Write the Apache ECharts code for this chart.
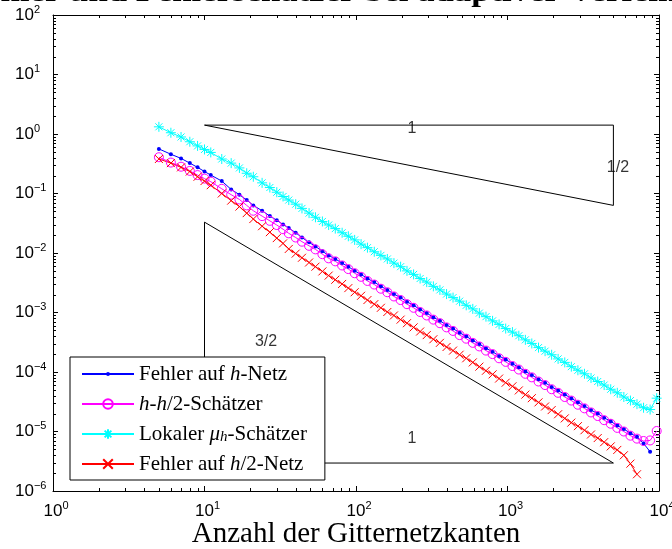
<!DOCTYPE html>
<html>
<head>
<meta charset="utf-8">
<script src="https://cdn.jsdelivr.net/npm/echarts@6/dist/echarts.min.js"></script>
<style>
  html, body { margin: 0; padding: 0; background: #fff; }
  #chart { width: 672px; height: 549px; }
</style>
</head>
<body>
<div id="chart"></div>
<script>
// number of grid edges (shared x values)
const edges = [5, 6, 7, 8, 9, 10, 11, 13, 15, 17, 19, 21, 24, 27, 30, 33, 36, 40, 44, 49,
  54, 60, 66, 73, 81, 89, 98, 108, 119, 132, 146, 161, 178, 197, 217, 240, 265, 293, 324, 358,
  396, 437, 483, 534, 590, 652, 721, 797, 880, 973, 1078, 1188, 1312, 1447, 1602, 1770, 1956, 2158, 2388, 2638,
  2915, 3221, 3559, 3940, 4345, 4801, 5305, 5861, 6476, 7156, 7907, 8737, 9654];

// Fehler auf h-Netz
const errH = [0.562, 0.457, 0.389, 0.324, 0.275, 0.234, 0.204, 0.162, 0.117, 9.55e-2,
  7.76e-2, 6.31e-2, 5.13e-2, 4.17e-2, 3.55e-2, 3.02e-2, 2.63e-2, 2.19e-2, 1.82e-2, 1.51e-2,
  1.29e-2, 1.07e-2, 9.12e-3, 7.94e-3, 6.76e-3, 5.89e-3, 5.01e-3, 4.37e-3, 3.72e-3, 3.24e-3,
  2.75e-3, 2.40e-3, 2.04e-3, 1.78e-3, 1.51e-3, 1.32e-3, 1.12e-3, 9.77e-4, 8.32e-4, 7.24e-4,
  6.17e-4, 5.37e-4, 4.57e-4, 3.98e-4, 3.39e-4, 2.95e-4, 2.51e-4, 2.19e-4, 1.86e-4, 1.62e-4,
  1.38e-4, 1.20e-4, 1.02e-4, 8.91e-5, 7.59e-5, 6.61e-5, 5.62e-5, 4.90e-5, 4.17e-5, 3.63e-5,
  3.09e-5, 2.69e-5, 2.29e-5, 2.00e-5, 1.70e-5, 1.48e-5, 1.26e-5, 1.10e-5, 9.33e-6, 8.13e-6,
  6.31e-6, 4.57e-6];

// h-h/2-Schätzer
const estHH2 = [0.407, 0.331, 0.282, 0.240, 0.204, 0.178, 0.158, 0.120, 9.55e-2, 7.94e-2,
  6.31e-2, 5.13e-2, 4.17e-2, 3.47e-2, 2.95e-2, 2.51e-2, 2.14e-2, 1.82e-2, 1.55e-2, 1.32e-2,
  1.15e-2, 9.55e-3, 8.13e-3, 7.24e-3, 6.17e-3, 5.37e-3, 4.57e-3, 3.98e-3, 3.39e-3, 2.95e-3,
  2.51e-3, 2.19e-3, 1.86e-3, 1.62e-3, 1.38e-3, 1.20e-3, 1.02e-3, 8.91e-4, 7.59e-4, 6.61e-4,
  5.62e-4, 4.90e-4, 4.17e-4, 3.63e-4, 3.09e-4, 2.69e-4, 2.29e-4, 2.00e-4, 1.70e-4, 1.48e-4,
  1.26e-4, 1.10e-4, 9.33e-5, 8.13e-5, 6.92e-5, 6.03e-5, 5.13e-5, 4.47e-5, 3.80e-5, 3.31e-5,
  2.82e-5, 2.45e-5, 2.09e-5, 1.82e-5, 1.55e-5, 1.35e-5, 1.15e-5, 1.00e-5, 8.51e-6, 7.59e-6,
  6.92e-6, 7.08e-6, 1.02e-5];

// Lokaler mu_h-Schätzer
const estMu = [1.32, 1.05, 0.891, 0.741, 0.631, 0.550, 0.490, 0.380, 0.324, 0.269,
  0.219, 0.191, 0.151, 0.126, 0.105, 8.91e-2, 7.76e-2, 6.61e-2, 5.62e-2, 4.68e-2,
  3.98e-2, 3.39e-2, 2.95e-2, 2.57e-2, 2.19e-2, 1.91e-2, 1.66e-2, 1.41e-2, 1.23e-2, 1.05e-2,
  9.12e-3, 7.94e-3, 6.76e-3, 5.89e-3, 5.01e-3, 4.37e-3, 3.72e-3, 3.24e-3, 2.75e-3, 2.40e-3,
  2.04e-3, 1.78e-3, 1.55e-3, 1.32e-3, 1.15e-3, 9.77e-4, 8.51e-4, 7.24e-4, 6.31e-4, 5.37e-4,
  4.68e-4, 4.07e-4, 3.47e-4, 3.02e-4, 2.57e-4, 2.24e-4, 1.95e-4, 1.66e-4, 1.45e-4, 1.23e-4,
  1.07e-4, 9.33e-5, 7.94e-5, 6.92e-5, 6.03e-5, 5.13e-5, 4.47e-5, 3.80e-5, 3.31e-5, 2.88e-5,
  2.51e-5, 2.34e-5, 3.63e-5];

// Fehler auf h/2-Netz
const errH2 = [0.380, 0.324, 0.275, 0.234, 0.191, 0.162, 0.138, 0.100, 7.59e-2, 6.03e-2,
  4.68e-2, 3.72e-2, 2.82e-2, 2.24e-2, 1.78e-2, 1.45e-2, 1.17e-2, 9.77e-3, 8.32e-3, 6.92e-3,
  5.89e-3, 4.90e-3, 4.17e-3, 3.55e-3, 3.02e-3, 2.57e-3, 2.19e-3, 1.91e-3, 1.62e-3, 1.38e-3,
  1.20e-3, 1.02e-3, 8.91e-4, 7.59e-4, 6.61e-4, 5.62e-4, 4.79e-4, 4.17e-4, 3.55e-4, 3.09e-4,
  2.63e-4, 2.29e-4, 1.95e-4, 1.70e-4, 1.45e-4, 1.23e-4, 1.05e-4, 9.12e-5, 7.76e-5, 6.61e-5,
  5.75e-5, 4.90e-5, 4.17e-5, 3.63e-5, 3.09e-5, 2.63e-5, 2.29e-5, 1.95e-5, 1.66e-5, 1.41e-5,
  1.23e-5, 1.05e-5, 8.91e-6, 7.76e-6, 6.61e-6, 5.62e-6, 4.90e-6, 3.98e-6, 2.88e-6, 1.91e-6];

// slope triangles (corners, in data units)
const tri1X = [10, 5000, 5000, 10];
const tri1Y = [1.41, 1.41, 0.0631, 1.41];
const tri2X = [10, 10, 5000, 10];
const tri2Y = [0.033, 2.95e-6, 2.95e-6, 0.033];

// triangle annotations
const noteX = [234, 5360, 25.5, 234];
const noteY = [1.21, 0.268, 3.19e-4, 7.6e-6];
const noteText = ['1', '1/2', '3/2', '1'];

const seriesNames = ['Fehler auf h-Netz', 'h-h/2-Schätzer', 'Lokaler μh-Schätzer', 'Fehler auf h/2-Netz'];
const legendRich = {
  'Fehler auf h-Netz': 'Fehler auf {i|h}-Netz',
  'h-h/2-Schätzer': '{i|h}-{i|h}/2-Schätzer',
  'Lokaler μh-Schätzer': 'Lokaler {i|μ}{s|h}-Schätzer',
  'Fehler auf h/2-Netz': 'Fehler auf {i|h}/2-Netz',
};

const SANS = '"Liberation Sans", Arial, sans-serif';
const SERIF = '"Liberation Serif", "Times New Roman", serif';

// marker shapes (MATLAB '.', '*', 'x'); corner moves keep the box size
const dotSymbol = 'path://M0,0L0,0M10,10L10,10M3,5A2,2,0,1,1,7,5A2,2,0,1,1,3,5Z';
const starSymbol = 'path://M5,0L5,10M0,5L10,5M1.5,1.5L8.5,8.5M1.5,8.5L8.5,1.5';
const crossSymbol = 'path://M0,0L10,10M0,10L10,0';

const pairs = (xs, ys) => ys.map((y, i) => [xs[i], y]);

const expLabel = (v) => {
  const e = Math.round(Math.log10(v));
  return '{b|10}{e|' + (e < 0 ? '−' + (-e) : e) + '}';
};
const expRich = {
  b: { fontFamily: SANS, fontSize: 17, lineHeight: 22, color: '#000' },
  e: { fontFamily: SANS, fontSize: 11, lineHeight: 11, verticalAlign: 'top', color: '#000' },
};

const chart = echarts.init(document.getElementById('chart'), null, { renderer: 'canvas' });

const baseAxis = {
  type: 'log',
  logBase: 10,
  axisLine: { show: true, onZero: false, lineStyle: { color: '#000', width: 1 } },
  axisTick: { show: true, inside: true, length: 5, lineStyle: { color: '#000', width: 1 } },
  splitLine: { show: false },
  minorTick: { show: false },
};

const option = {
  animation: false,
  backgroundColor: '#fff',
  grid: { left: 53, right: 13, top: 15, bottom: 58, containLabel: false, outerBoundsMode: 'none' },
  graphic: [{
    // title, cut off at the top edge like the exported figure
    type: 'text',
    x: -36,
    y: 8,
    scaleX: 1.24,
    silent: true,
    style: {
      text: 'Fehler und Fehlerschätzer bei adaptiver Verfeinerung',
      font: 'bold 28px ' + SERIF,
      fill: '#000',
      align: 'left',
      verticalAlign: 'bottom',
    },
  }],
  xAxis: [
    Object.assign({}, baseAxis, {
      min: 1, max: 10000, splitNumber: 4,
      name: 'Anzahl der Gitternetzkanten',
      nameLocation: 'middle',
      nameGap: 29,
      nameMoveOverlap: false,
      nameTextStyle: { fontFamily: SERIF, fontSize: 29, color: '#000' },
      axisLabel: { formatter: expLabel, rich: expRich, margin: 9, padding: [0, 0, 0, 6] },
    }),
    Object.assign({}, baseAxis, {
      position: 'top', min: 1, max: 10000, splitNumber: 4,
      axisLabel: { show: false },
    }),
  ],
  yAxis: [
    Object.assign({}, baseAxis, {
      min: 1e-6, max: 100, splitNumber: 8,
      axisLabel: { formatter: expLabel, rich: expRich, align: 'left', margin: 38 },
    }),
    Object.assign({}, baseAxis, {
      position: 'right', min: 1e-6, max: 100, splitNumber: 8,
      axisLabel: { show: false },
    }),
  ],
  legend: {
    data: seriesNames,
    orient: 'vertical',
    left: 70,
    top: 357,
    padding: [6, 18, 5, 11],
    itemWidth: 52,
    itemHeight: 12,
    itemGap: 8,
    selectedMode: false,
    backgroundColor: '#fff',
    borderColor: '#000',
    borderWidth: 1,
    formatter: (name) => legendRich[name],
    textStyle: {
      fontFamily: SERIF,
      fontSize: 21,
      lineHeight: 22,
      color: '#000',
      rich: {
        i: { fontFamily: SERIF, fontStyle: 'italic', fontSize: 21, lineHeight: 22, color: '#000' },
        s: { fontFamily: SERIF, fontStyle: 'italic', fontSize: 15, lineHeight: 14, verticalAlign: 'bottom', color: '#000' },
      },
    },
  },
  series: [
    {
      name: 'tri1', type: 'line', data: pairs(tri1X, tri1Y), symbol: 'none', silent: true,
      lineStyle: { color: '#000', width: 1 }, z: 1,
    },
    {
      name: 'tri2', type: 'line', data: pairs(tri2X, tri2Y), symbol: 'none', silent: true,
      lineStyle: { color: '#000', width: 1 }, z: 1,
    },
    {
      name: 'notes', type: 'scatter', silent: true, symbolSize: 0, z: 1,
      data: noteX.map((x, i) => ({ value: [x, noteY[i]], name: noteText[i] })),
      label: { show: true, position: 'inside', formatter: '{b}', fontFamily: SANS, fontSize: 16, color: '#000' },
    },
    {
      name: seriesNames[0], type: 'line', data: pairs(edges, errH),
      symbol: dotSymbol, symbolSize: 10,
      itemStyle: { color: '#0000ff', borderWidth: 0 },
      lineStyle: { color: '#0000ff', width: 1 },
    },
    {
      name: seriesNames[1], type: 'line', data: pairs(edges, estHH2),
      symbol: 'circle', symbolSize: 9,
      itemStyle: { color: 'rgba(0,0,0,0)', borderColor: '#ff00ff', borderWidth: 1 },
      lineStyle: { color: '#ff00ff', width: 1 },
    },
    {
      name: seriesNames[2], type: 'line', data: pairs(edges, estMu),
      symbol: starSymbol, symbolSize: 10,
      itemStyle: { color: 'rgba(0,0,0,0)', borderColor: '#00ffff', borderWidth: 1 },
      lineStyle: { color: '#00ffff', width: 1 },
    },
    {
      name: seriesNames[3], type: 'line', data: pairs(edges, errH2),
      symbol: crossSymbol, symbolSize: 8,
      itemStyle: { color: 'rgba(0,0,0,0)', borderColor: '#ff0000', borderWidth: 1 },
      lineStyle: { color: '#ff0000', width: 1 },
    },
    {
      // minor log ticks (2..9 per decade) on all four sides
      name: 'minorTicks', type: 'custom', silent: true, z: 3,
      data: [[1, 1]],
      renderItem: (params, api) => {
        const r = params.coordSys;
        const kids = [];
        const st = { stroke: '#000', lineWidth: 1 };
        for (let k = 0; k < 4; k++) {
          for (let m = 2; m <= 9; m++) {
            const px = Math.round(api.coord([m * Math.pow(10, k), 1])[0]) + 0.5;
            kids.push({ type: 'line', shape: { x1: px, y1: r.y + r.height, x2: px, y2: r.y + r.height - 3 }, style: st });
            kids.push({ type: 'line', shape: { x1: px, y1: r.y, x2: px, y2: r.y + 3 }, style: st });
          }
        }
        for (let k = -6; k < 2; k++) {
          for (let m = 2; m <= 9; m++) {
            const py = Math.round(api.coord([1, m * Math.pow(10, k)])[1]) + 0.5;
            kids.push({ type: 'line', shape: { x1: r.x, y1: py, x2: r.x + 3, y2: py }, style: st });
            kids.push({ type: 'line', shape: { x1: r.x + r.width, y1: py, x2: r.x + r.width - 3, y2: py }, style: st });
          }
        }
        return { type: 'group', children: kids };
      },
    },
  ],
};

chart.setOption(option);
</script>
</body>
</html>
